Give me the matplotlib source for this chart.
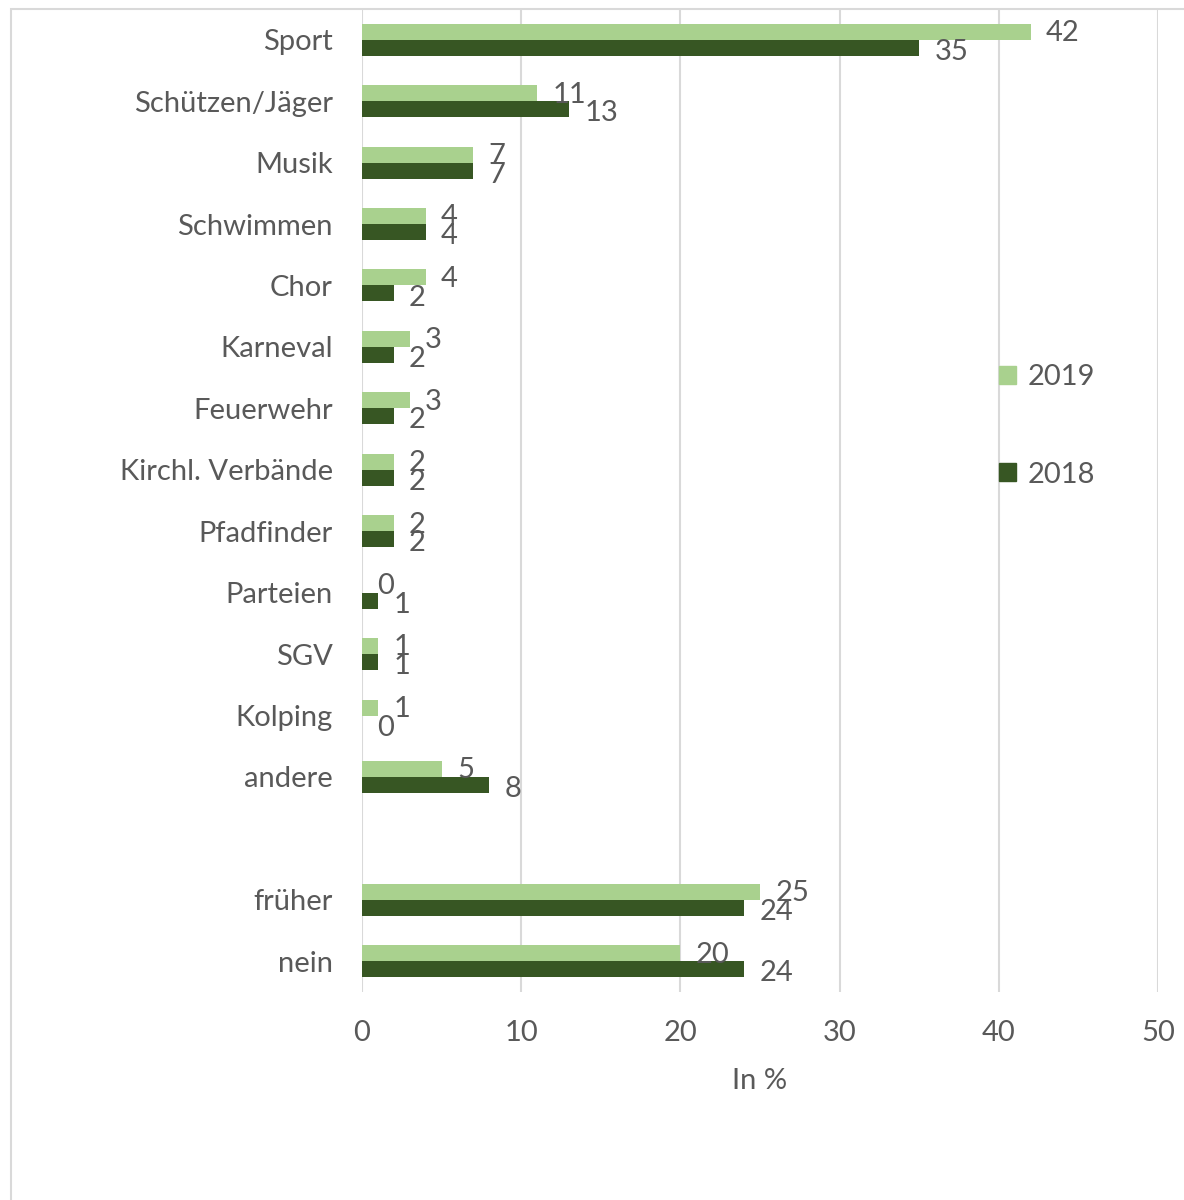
import matplotlib.pyplot as plt
from matplotlib.patches import Patch, Rectangle

categories = ['Sport', 'Schützen/Jäger', 'Musik', 'Schwimmen', 'Chor', 'Karneval',
              'Feuerwehr', 'Kirchl. Verbände', 'Pfadfinder', 'Parteien', 'SGV',
              'Kolping', 'andere', '', 'früher', 'nein']
v2019 = [42, 11, 7, 4, 4, 3, 3, 2, 2, 0, 1, 1, 5, None, 25, 20]
v2018 = [35, 13, 7, 4, 2, 2, 2, 2, 2, 1, 1, 0, 8, None, 24, 24]
xticks = [0, 10, 20, 30, 40, 50]

c19 = '#a9d18e'
c18 = '#375623'
grey = '#595959'
fs = 21
plt.rcParams['font.family'] = ['Lato', 'DejaVu Sans']

fig = plt.figure(figsize=(11.84, 12), dpi=100)
ax = fig.add_axes([362 / 1184, 1 - 992 / 1200, 796 / 1184, 983 / 1200])

h = 0.26
pos = list(range(len(categories)))
for i in pos:
    if v2019[i] is None:
        continue
    ax.barh(i - h / 2, v2019[i], height=h, color=c19)
    ax.barh(i + h / 2, v2018[i], height=h, color=c18)
    ax.annotate(str(v2019[i]), (v2019[i], i - h / 2), xytext=(11, -1),
                textcoords='offset points', va='center', ha='left',
                fontsize=fs, color=grey)
    ax.annotate(str(v2018[i]), (v2018[i], i + h / 2), xytext=(11, -3),
                textcoords='offset points', va='center', ha='left',
                fontsize=fs, color=grey)

ax.set_xlim(0, 50)
ax.set_ylim(len(categories) - 0.5, -0.5)
ax.set_xticks(xticks)
ax.set_yticks(pos)
ax.set_yticklabels(categories)
ax.tick_params(length=0, labelsize=fs, labelcolor=grey)
ax.tick_params(axis='y', pad=21)
ax.tick_params(axis='x', pad=20)
ax.grid(axis='x', color='#d9d9d9', linewidth=1.5)
ax.set_axisbelow(True)
for s in ax.spines.values():
    s.set_visible(False)
ax.set_xlabel('In %', fontsize=fs, color=grey, labelpad=16)

handles = [Patch(color=c19, label='2019'), Patch(color=c18, label='2018')]
fig.legend(handles=handles, loc='center left', bbox_to_anchor=(973 / 1184, 1 - 426 / 1200),
           frameon=False, fontsize=fs, labelcolor=grey, handlelength=0.57,
           handleheight=0.57, handletextpad=0.4, labelspacing=2.45)

# chart frame (cropped)
fig.patches.append(Rectangle((11 / 1184, -0.1), 1.2, 1 - 9 / 1200 + 0.1,
                             transform=fig.transFigure, fill=False,
                             edgecolor='#d9d9d9', linewidth=1.5))

fig.savefig('out.png', dpi=100)
